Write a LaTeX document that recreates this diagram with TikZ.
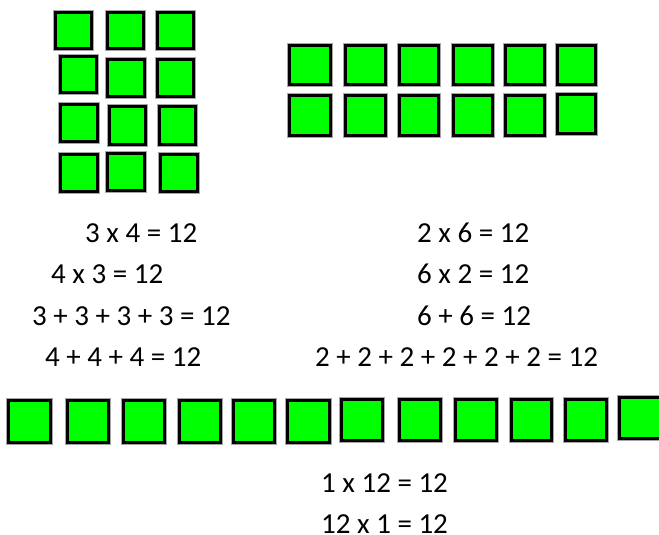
\documentclass[tikz,border=0pt]{standalone}
\usepackage{fontspec}
\setmainfont{Carlito}
\definecolor{sqgreen}{RGB}{0,255,0}
\tikzset{
  sq/.style={draw=black, line width=3.2pt, fill=sqgreen, inner sep=0pt, rectangle,
    preaction={draw=black!35, line width=5pt}},
  eq/.style={anchor=base west, inner sep=0pt, font=\fontsize{29}{34}\selectfont}
}
\newcommand\blk[5]{\node[sq, minimum width={#4-#2-3.2}, minimum height={#5-#3-3.2}] (#1) at ({(#2+#4)/2},{(#3+#5)/2}) {};}
\begin{document}
\begin{tikzpicture}[x=1pt,y=-1pt]
\useasboundingbox[fill=white] (0,0) rectangle (659,535);
% left 3x4 array
\blk{a11}{54}{11}{93}{50}
\blk{a12}{106}{11}{145}{50}
\blk{a13}{156}{11}{195}{50}
\blk{a21}{59}{55}{98}{94}
\blk{a22}{106}{58}{146}{98}
\blk{a23}{156}{58}{195}{98}
\blk{a31}{59}{103}{99}{143}
\blk{a32}{108}{105}{147}{146}
\blk{a33}{158}{105}{197}{146}
\blk{a41}{59}{153}{99}{193}
\blk{a42}{106}{152}{146}{192}
\blk{a43}{159}{153}{199}{193}
% right 6x2 array
\blk{b11}{288}{44}{332}{86}
\blk{b12}{344}{44}{387}{86}
\blk{b13}{398}{44}{440}{86}
\blk{b14}{452}{44}{494}{86}
\blk{b15}{504}{44}{546}{86}
\blk{b16}{556}{44}{597}{86}
\blk{b21}{288}{94}{332}{137}
\blk{b22}{344}{94}{387}{137}
\blk{b23}{398}{94}{440}{137}
\blk{b24}{452}{94}{494}{137}
\blk{b25}{504}{94}{546}{137}
\blk{b26}{556}{93}{597}{135}
% bottom 12x1 row
\blk{c1}{7}{399}{52}{444}
\blk{c2}{66}{399}{110}{444}
\blk{c3}{122}{399}{166}{444}
\blk{c4}{178}{399}{222}{444}
\blk{c5}{232}{399}{276}{444}
\blk{c6}{286}{399}{331}{444}
\blk{c7}{340}{398}{384}{442}
\blk{c8}{398}{398}{442}{442}
\blk{c9}{454}{398}{498}{442}
\blk{c10}{510}{398}{553}{442}
\blk{c11}{564}{398}{608}{442}
\blk{c12}{618}{396}{663}{440}
% equations
\node[eq] (e1) at (85,242) {3 x 4 = 12};
\node[eq] (e2) at (51,283) {4 x 3 = 12};
\node[eq] (e3) at (32,325) {3 + 3 + 3 + 3 = 12};
\node[eq] (e4) at (45,366) {4 + 4 + 4 = 12};
\node[eq] (f1) at (417,242) {2 x 6 = 12};
\node[eq] (f2) at (417,283) {6 x 2 = 12};
\node[eq] (f3) at (417,325) {6 + 6 = 12};
\node[eq] (f4) at (315,366) {2 + 2 + 2 + 2 + 2 + 2 = 12};
\node[eq] (g1) at (321,492) {1 x 12 = 12};
\node[eq] (g2) at (321,533) {12 x 1 = 12};
\end{tikzpicture}
\end{document}
